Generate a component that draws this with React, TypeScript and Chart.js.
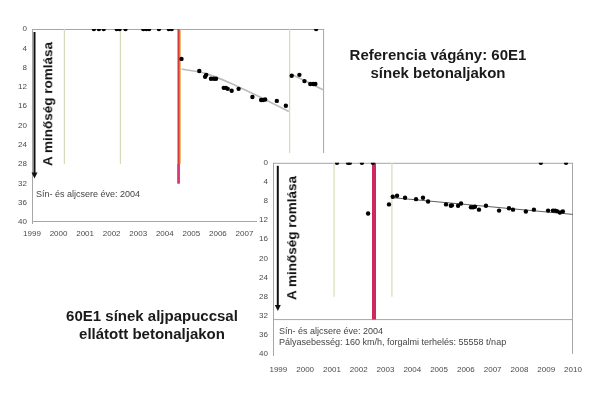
import React, { useEffect, useRef } from 'react';
import { Chart, registerables } from 'chart.js';

Chart.register(...registerables);

// ---------- shared axis data ----------
const YEAR_TICKS = [1999, 2000, 2001, 2002, 2003, 2004, 2005, 2006, 2007, 2008, 2009, 2010];
const DEPTH_TICKS = [0, 4, 8, 12, 16, 20, 24, 28, 32, 36, 40];

// ---------- chart 1: Referencia vágány ----------
const REF_ZERO_X = [2001.33, 2001.52, 2001.7, 2002.19, 2002.3, 2002.52, 2003.19, 2003.3, 2003.41, 2003.78, 2004.15, 2004.26, 2009.7];
const REF_POINT_X = [2004.63, 2005.3, 2005.52, 2005.56, 2005.74, 2005.85, 2005.93, 2006.22, 2006.3, 2006.37, 2006.52, 2006.78, 2007.3, 2007.63, 2007.7, 2007.78, 2008.22, 2008.56, 2008.78, 2009.07, 2009.26, 2009.48, 2009.59, 2009.67];
const REF_POINT_Y = [6.2, 8.7, 9.9, 9.5, 10.3, 10.3, 10.3, 12.2, 12.2, 12.4, 12.8, 12.4, 14.1, 14.7, 14.7, 14.6, 14.9, 15.9, 9.7, 9.5, 10.8, 11.4, 11.4, 11.4];
const REF_TREND1_X = [2004.63, 2005.59, 2006.78, 2007.81, 2008.67];
const REF_TREND1_Y = [8.3, 9.3, 12.0, 14.7, 17.1];
const REF_TREND2_X = [2008.81, 2009.96];
const REF_TREND2_Y = [9.5, 12.6];
const REF_MAINT_X = [2000.22, 2002.33, 2008.7];
const REF_RENEWAL_X = 2004.52;
const REF_RENEWAL_X2 = 2004.58;

// ---------- chart 2: aljpapucs ----------
const USP_ZERO_X = [2001.19, 2001.6, 2001.67, 2002.12, 2002.53, 2008.8, 2009.74];
const USP_POINT_X = [2002.35, 2003.13, 2003.27, 2003.43, 2003.73, 2004.14, 2004.4, 2004.59, 2005.26, 2005.44, 2005.48, 2005.71, 2005.82, 2006.19, 2006.27, 2006.34, 2006.49, 2006.75, 2007.24, 2007.61, 2007.76, 2008.24, 2008.54, 2009.07, 2009.25, 2009.33, 2009.4, 2009.51, 2009.62];
const USP_POINT_Y = [10.6, 8.7, 7.1, 6.9, 7.3, 7.6, 7.3, 8.1, 8.7, 9.0, 8.9, 9.0, 8.5, 9.3, 9.3, 9.2, 9.8, 9.0, 10.0, 9.5, 9.8, 10.2, 9.8, 10.0, 10.0, 10.0, 10.1, 10.4, 10.2];
const USP_TREND_X = [2003.28, 2010];
const USP_TREND_Y = [7.3, 10.8];
const USP_MAINT_X = [2001.08, 2003.24];
const USP_RENEWAL_X = 2002.57;

const MAINT_DEPTH = 28;
const RENEWAL_DEPTH = 32;
const USP_RENEWAL_DEPTH = 32.8;
const USP_SEPARATOR = 32.8;
const ARROW_END = 31;

const FONT = '"Liberation Sans", Arial, sans-serif';
const TICK_COLOR = '#4a4a4a';
const FRAME_COLOR = '#a6a6a6';
const BEIGE = 'rgb(216,216,186)';

const vline = (x: number, y0: number, y1: number, color: string, width: number) => ({
  data: [{ x, y: y0 }, { x, y: y1 }],
  showLine: true,
  borderColor: color,
  borderWidth: width,
  pointRadius: 0,
  fill: false,
});

const zip = (xs: number[], ys: number[]) => xs.map((x, i) => ({ x, y: ys[i] }));

function makeFramePlugin(sides: { top: boolean; right: boolean; bottom: boolean; left: boolean }, arrowOffset: number) {
  return {
    id: 'frameArrow',
    beforeDatasetsDraw(chart: any) {
      const { ctx, chartArea: a } = chart;
      ctx.save();
      ctx.strokeStyle = FRAME_COLOR;
      ctx.lineWidth = 1;
      ctx.beginPath();
      if (sides.top) { ctx.moveTo(a.left, a.top + 0.5); ctx.lineTo(a.right, a.top + 0.5); }
      if (sides.right) { ctx.moveTo(a.right - 0.5, a.top); ctx.lineTo(a.right - 0.5, a.bottom); }
      if (sides.bottom) { ctx.moveTo(a.left, a.bottom - 0.5); ctx.lineTo(a.right, a.bottom - 0.5); }
      if (sides.left) { ctx.moveTo(a.left + 0.5, a.top); ctx.lineTo(a.left + 0.5, a.bottom + 2); }
      ctx.stroke();
      ctx.restore();
    },
    afterDatasetsDraw(chart: any) {
      const { ctx, chartArea: a, scales } = chart;
      const x = a.left + arrowOffset;
      const yEnd = scales.y.getPixelForValue(ARROW_END);
      ctx.save();
      ctx.strokeStyle = '#111';
      ctx.fillStyle = '#111';
      ctx.lineWidth = 2;
      ctx.beginPath();
      ctx.moveTo(x, a.top + 3);
      ctx.lineTo(x, yEnd - 5);
      ctx.stroke();
      ctx.beginPath();
      ctx.moveTo(x - 3, yEnd - 6);
      ctx.lineTo(x + 3, yEnd - 6);
      ctx.lineTo(x, yEnd);
      ctx.closePath();
      ctx.fill();
      ctx.restore();
    },
  };
}

function makeScales(xMin: number, yWidth: number, xHeight: number, xPad: number) {
  const tickFont = { family: FONT, size: 8 };
  return {
    x: {
      type: 'linear',
      min: xMin,
      max: 2010,
      afterBuildTicks: (s: any) => { s.ticks = YEAR_TICKS.map((v) => ({ value: v })); },
      afterFit: (s: any) => { s.height = xHeight; },
      grid: { display: false, drawTicks: false },
      border: { display: false },
      ticks: { padding: xPad, font: tickFont, color: TICK_COLOR, maxRotation: 0, autoSkip: false, callback: (v: any) => String(v) },
    },
    y: {
      type: 'linear',
      reverse: true,
      min: 0,
      max: 40,
      afterBuildTicks: (s: any) => { s.ticks = DEPTH_TICKS.map((v) => ({ value: v })); },
      afterFit: (s: any) => { s.width = yWidth; },
      grid: { display: false, drawTicks: false },
      border: { display: false },
      ticks: { padding: 5, font: tickFont, color: TICK_COLOR, autoSkip: false, callback: (v: any) => String(v) },
    },
  };
}

const pointStyle = {
  backgroundColor: '#000',
  borderColor: '#000',
  pointRadius: 2.2,
  borderWidth: 0,
  clip: { left: 5, right: 5, top: 0, bottom: 5 },
};

function refConfig(): any {
  return {
    type: 'scatter',
    data: {
      datasets: [
        { data: zip(REF_POINT_X, REF_POINT_Y), ...pointStyle },
        { data: REF_ZERO_X.map((x) => ({ x, y: 0 })), ...pointStyle },
        { data: zip(REF_TREND1_X, REF_TREND1_Y), showLine: true, borderColor: 'rgb(188,188,188)', borderWidth: 1.6, pointRadius: 0, tension: 0.35 },
        { data: zip(REF_TREND2_X, REF_TREND2_Y), showLine: true, borderColor: 'rgb(188,188,188)', borderWidth: 1.6, pointRadius: 0 },
        vline(REF_RENEWAL_X, MAINT_DEPTH, RENEWAL_DEPTH, 'rgb(222,55,115)', 2.5),
        vline(REF_RENEWAL_X, 0, RENEWAL_DEPTH, 'rgb(210,62,60)', 2.2),
        vline(REF_RENEWAL_X2, 0, MAINT_DEPTH, 'rgb(236,185,120)', 1),
        ...REF_MAINT_X.map((x) => vline(x, 0, MAINT_DEPTH, BEIGE, 1.2)),
      ],
    },
    options: {
      animation: false,
      responsive: false,
      layout: { padding: { top: 29, right: 11, left: 0, bottom: 0 } },
      plugins: { legend: { display: false }, tooltip: { enabled: false } },
      scales: makeScales(1999, 32, 23, 7),
    },
    plugins: [makeFramePlugin({ top: true, right: true, bottom: true, left: true }, 2.5)],
  };
}

function uspConfig(): any {
  return {
    type: 'scatter',
    data: {
      datasets: [
        { data: zip(USP_POINT_X, USP_POINT_Y), ...pointStyle },
        { data: USP_ZERO_X.map((x) => ({ x, y: 0 })), ...pointStyle },
        { data: zip(USP_TREND_X, USP_TREND_Y), showLine: true, borderColor: 'rgb(95,95,95)', borderWidth: 1, pointRadius: 0 },
        vline(USP_RENEWAL_X, 0, USP_RENEWAL_DEPTH, 'rgb(204,42,92)', 4),
        ...USP_MAINT_X.map((x) => vline(x, 0, MAINT_DEPTH, 'rgb(214,224,190)', 1.3)),
        { data: [{ x: 1998.8, y: USP_SEPARATOR }, { x: 2010, y: USP_SEPARATOR }], showLine: true, borderColor: FRAME_COLOR, borderWidth: 1, pointRadius: 0 },
      ],
    },
    options: {
      animation: false,
      responsive: false,
      layout: { padding: { top: 9, right: 28, left: 0, bottom: 0 } },
      plugins: { legend: { display: false }, tooltip: { enabled: false } },
      scales: makeScales(1998.8, 28, 42, 11),
    },
    plugins: [makeFramePlugin({ top: true, right: true, bottom: false, left: true }, 4.8)],
  };
}

function ChartCanvas({ config, left, top, width, height }: { config: () => any; left: number; top: number; width: number; height: number }) {
  const ref = useRef<HTMLCanvasElement>(null);
  useEffect(() => {
    const chart = new Chart(ref.current as HTMLCanvasElement, config());
    return () => chart.destroy();
  }, []);
  return (
    <div style={{ position: 'absolute', left, top, width, height }}>
      <canvas ref={ref} width={width} height={height} style={{ display: 'block', width, height }} />
    </div>
  );
}

const smallText: React.CSSProperties = {
  position: 'absolute',
  fontFamily: FONT,
  fontSize: 9,
  lineHeight: '11px',
  color: '#444',
  whiteSpace: 'nowrap',
};

const titleText: React.CSSProperties = {
  position: 'absolute',
  fontFamily: FONT,
  fontSize: 15,
  fontWeight: 'bold',
  lineHeight: '18px',
  color: '#1a1a1a',
  textAlign: 'center',
  width: 240,
  whiteSpace: 'nowrap',
};

const rotText = (cx: number, cy: number): React.CSSProperties => ({
  position: 'absolute',
  left: cx,
  top: cy,
  transform: 'translate(-50%, -50%) rotate(-90deg)',
  fontFamily: FONT,
  fontSize: 13.5,
  fontWeight: 'bold',
  lineHeight: '13.5px',
  color: '#111',
  whiteSpace: 'nowrap',
});

export default function App() {
  return (
    <div style={{ position: 'fixed', left: 0, top: 0, width: 601, height: 396, background: '#fff', overflow: 'hidden' }}>
      <ChartCanvas config={refConfig} left={0} top={0} width={340} height={245} />
      <div style={rotText(48, 104)}>A minőség romlása</div>
      <div style={{ ...smallText, left: 36, top: 189 }}>Sín- és aljcsere éve: 2004</div>
      <div style={{ ...titleText, left: 438 - 120, top: 46 }}>
        Referencia vágány: 60E1
        <br />
        sínek betonaljakon
      </div>

      <div style={{ position: 'absolute', left: 257, top: 153, width: 344, height: 243, background: '#fff' }} />
      <ChartCanvas config={uspConfig} left={245} top={153} width={356} height={243} />
      <div style={rotText(292, 237.5)}>A minőség romlása</div>
      <div style={{ ...smallText, left: 279, top: 326 }}>Sín- és aljcsere éve: 2004</div>
      <div style={{ ...smallText, left: 279, top: 337 }}>Pályasebesség: 160 km/h, forgalmi terhelés: 55558 t/nap</div>

      <div style={{ ...titleText, left: 152 - 120, top: 307 }}>
        60E1 sínek aljpapuccsal
        <br />
        ellátott betonaljakon
      </div>
    </div>
  );
}
